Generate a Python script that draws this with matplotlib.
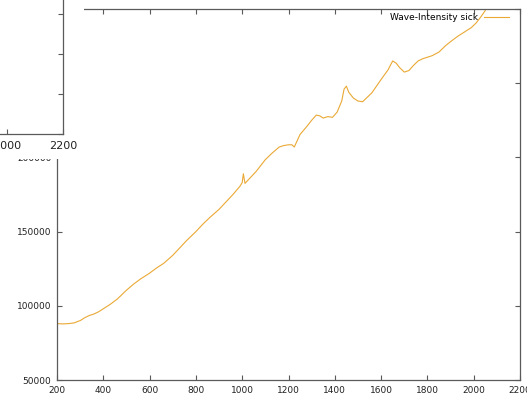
import matplotlib
matplotlib.use("Agg")
import matplotlib.pyplot as plt

# Wavelength samples and measured intensity for the "sick" sample
wavelength = [200, 225, 250, 275, 290, 300, 320, 340, 360, 380, 400, 430, 460, 500,
              530, 560, 600, 630, 660, 700, 730, 760, 800, 830, 860, 900, 930, 960,
              990, 1000, 1005, 1012, 1030, 1060, 1100, 1130, 1160, 1180, 1200, 1215,
              1225, 1250, 1280, 1300, 1320, 1335, 1350, 1370, 1390, 1410, 1430, 1440,
              1450, 1460, 1480, 1500, 1520, 1540, 1560, 1600, 1630, 1650, 1665, 1680,
              1700, 1720, 1740, 1760, 1780, 1800, 1820, 1850, 1880, 1900, 1930, 1960,
              1990, 2010, 2030, 2050]
intensity = [88000, 87800, 88000, 88500, 89500, 90000, 92000, 93500, 94500, 96000,
             98000, 101000, 104500, 110500, 114500, 118000, 122000, 125500, 128500,
             134000, 139000, 144000, 150000, 155000, 159500, 165000, 170000, 175000,
             180500, 183000, 189000, 182500, 185500, 190500, 198500, 203000, 207000,
             208000, 208500, 208500, 207000, 215500, 221000, 225000, 228500, 228000,
             226500, 227500, 227000, 230500, 238000, 246000, 248000, 244000, 240000,
             238000, 237500, 240500, 243500, 252500, 259000, 265000, 263500, 260500,
             257500, 258500, 262000, 265000, 266500, 267500, 268500, 271000, 275500,
             278000, 281500, 284500, 287500, 290500, 294500, 299000]

x_ticks = [200, 400, 600, 800, 1000, 1200, 1400, 1600, 1800, 2000, 2200]
y_ticks = [50000, 100000, 150000, 200000, 250000, 300000]
series_label = "Wave-Intensity sick"

W, H = 527, 395
line_color = "#EAA935"
frame_color = "#5a5a5a"


def px_box(left, top, right, bottom):
    return [left / W, 1 - bottom / H, (right - left) / W, (bottom - top) / H]


def style_axes(a, fs):
    for s in a.spines.values():
        s.set_color(frame_color)
        s.set_linewidth(0.9)
    a.set_xticks(x_ticks)
    a.set_yticks(y_ticks)
    a.set_xlim(200, 2200)
    a.set_ylim(50000, 300000)
    a.tick_params(direction="in", length=3.5, width=0.8, color=frame_color,
                  top=True, right=True, labelsize=fs, labelcolor="#222222", pad=4)


fig = plt.figure(figsize=(W / 100, H / 100), dpi=100)
fig.patch.set_facecolor("white")

# main panel
ax = fig.add_axes(px_box(57, 9, 520, 380))
style_axes(ax, 6.5)
ax.plot(wavelength, intensity, color=line_color, lw=0.8, label=series_label)
leg = ax.legend(loc="upper right", bbox_to_anchor=(509 / W, 1 - 13 / H),
                bbox_transform=fig.transFigure, frameon=False, markerfirst=False,
                fontsize=6.5, handlelength=2.8, handletextpad=0.65,
                borderpad=0, borderaxespad=0)

# small panel laid over the top-left corner
cover = fig.add_axes(px_box(0, 0, 84, 159))
cover.set_facecolor("white")
cover.set_xticks([])
cover.set_yticks([])
for s in cover.spines.values():
    s.set_visible(False)
cover.set_zorder(5)

ax2 = fig.add_axes(px_box(63 - 560, 134 - 200, 63, 134))
style_axes(ax2, 8)
ax2.tick_params(labelleft=False, pad=5)
ax2.plot(wavelength, intensity, color=line_color, lw=0.8)
ax2.set_zorder(6)

fig.savefig("out.png", dpi=100, facecolor="white")
